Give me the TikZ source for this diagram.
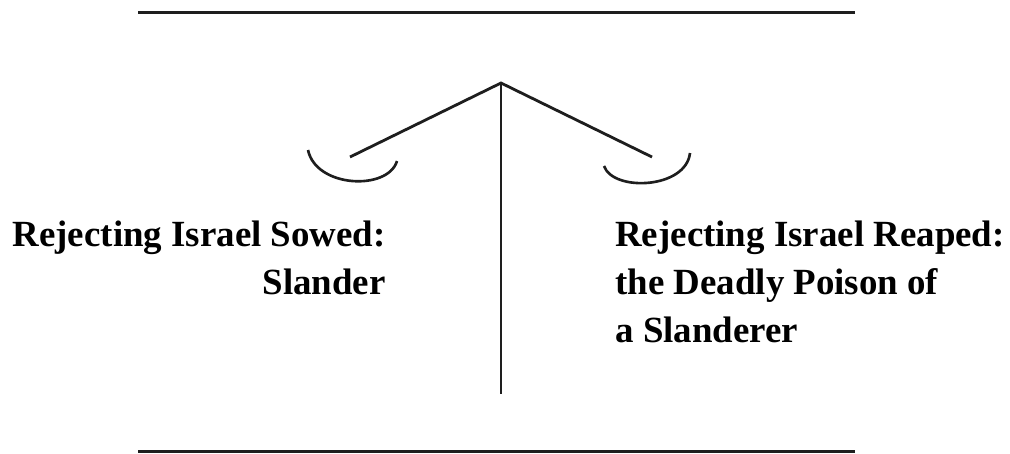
\documentclass[tikz,border=0pt]{standalone}
\usepackage{fontspec}
\setmainfont{Liberation Serif}
\usepackage{tikz}
\usetikzlibrary{positioning}
\definecolor{Ink}{HTML}{1E1E1E}

\begin{document}
\begin{tikzpicture}[x=.02cm,y=-.02cm,
    rule/.style={Ink,line width=1.8pt},
    beam/.style={Ink,line width=1.6pt},
    pan/.style={Ink,line width=1.5pt},
    lbl/.style={font=\fontsize{21}{24}\selectfont\bfseries,inner sep=0pt}]
        \useasboundingbox (0,0) rectangle (1010,453);
        % frame lines
        \coordinate (topL) at (138,12.5);
        \coordinate (topR) at (855,12.5);
        \coordinate (botL) at (138,451.5);
        \coordinate (botR) at (855,451.5);
        \draw[rule] (topL)--(topR);
        \draw[rule] (botL)--(botR);
        % the scale
        \coordinate (pivot) at (501,83);
        \coordinate (foot) at (501,394);
        \coordinate (hookL) at (350,157);
        \coordinate (hookR) at (652,157);
        \draw[beam] (pivot)--(foot);
        \draw[beam] (hookL)--(pivot)--(hookR);
        \draw[pan] (308,150) .. controls (316,188) and (388,191) .. (397,161);
        \draw[pan] (604,166) .. controls (613,192) and (686,189) .. (690,153);
        % sowed
        \node[lbl,anchor=base east] (sowA) at (386,246) {Rejecting Israel Sowed:};
        \node[lbl,anchor=base east] (sowB) at (386,294) {Slander};
        % reaped
        \node[lbl,anchor=base west] (reapA) at (615,246) {Rejecting Israel Reaped:};
        \node[lbl,anchor=base west] (reapB) at (615,294) {the Deadly Poison of};
        \node[lbl,anchor=base west] (reapC) at (615,342) {a Slanderer};
      \end{tikzpicture}
\end{document}
